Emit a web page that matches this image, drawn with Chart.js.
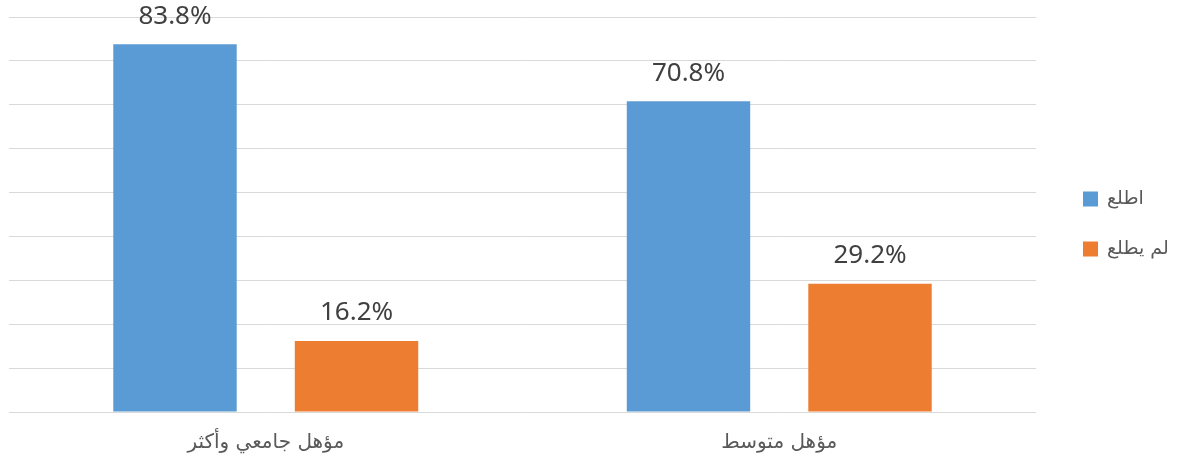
<!DOCTYPE html>
<html><head><meta charset="utf-8">
<script src="https://cdn.jsdelivr.net/npm/chart.js@4/dist/chart.umd.min.js"></script>
<style>html,body{margin:0;padding:0;background:#fff}#wrap{width:1180px;height:466px}</style>
</head><body><div id="wrap"><canvas id="c" width="1180" height="466"></canvas></div>
<script>
const categories = ['مؤهل جامعي وأكثر', 'مؤهل متوسط'];
const seriesNames = ['اطلع', 'لم يطلع'];
const readValues = [83.8, 70.8];
const notReadValues = [16.2, 29.2];
const colors = ['#5b9bd5', '#ed7d31'];
const yMax = 90, yStep = 10;

const valueLabels = {
  id: 'valueLabels',
  afterDatasetsDraw(chart) {
    const ctx = chart.ctx;
    ctx.save();
    ctx.font = '26px "Noto Sans", "Open Sans", sans-serif';
    ctx.fillStyle = '#404040';
    ctx.textAlign = 'center';
    ctx.textBaseline = 'middle';
    chart.data.datasets.forEach((ds, i) => {
      chart.getDatasetMeta(i).data.forEach((bar, j) => {
        ctx.fillText(ds.data[j].toFixed(1) + '%', bar.x, bar.y - 28);
      });
    });
    ctx.restore();
  }
};
const sideLegend = {
  id: 'sideLegend',
  afterDraw(chart) {
    const ctx = chart.ctx;
    ctx.save();
    ctx.font = '19px "DejaVu Sans", sans-serif';
    ctx.textBaseline = 'middle';
    ctx.textAlign = 'left';
    chart.data.datasets.forEach((ds, i) => {
      const y = 199 + i * 50;
      ctx.fillStyle = ds.backgroundColor;
      ctx.fillRect(1083, y - 7.5, 15, 15);
      ctx.fillStyle = '#595959';
      ctx.fillText(ds.label, 1107, y);
    });
    ctx.restore();
  }
};

new Chart(document.getElementById('c'), {
  type: 'bar',
  data: {
    labels: categories,
    datasets: [
      { label: seriesNames[0], data: readValues, backgroundColor: colors[0] },
      { label: seriesNames[1], data: notReadValues, backgroundColor: colors[1] }
    ]
  },
  options: {
    responsive: false,
    animation: false,
    devicePixelRatio: 1,
    layout: { padding: { left: 9, right: 144, top: 17, bottom: 0 } },
    datasets: { bar: { categoryPercentage: 0.707, barPercentage: 0.68 } },
    plugins: { legend: { display: false }, tooltip: { enabled: false } },
    scales: {
      x: {
        grid: { display: false, drawTicks: false },
        border: { display: false },
        ticks: { padding: 19, color: '#595959', font: { size: 20, family: '"DejaVu Sans", sans-serif' } },
        afterFit(axis) { axis.height = 54; }
      },
      y: {
        min: 0, max: yMax,
        ticks: { display: false, stepSize: yStep },
        grid: { color: '#d9d9d9', lineWidth: 1, drawTicks: false },
        border: { display: false }
      }
    }
  },
  plugins: [valueLabels, sideLegend]
});
</script></body></html>
